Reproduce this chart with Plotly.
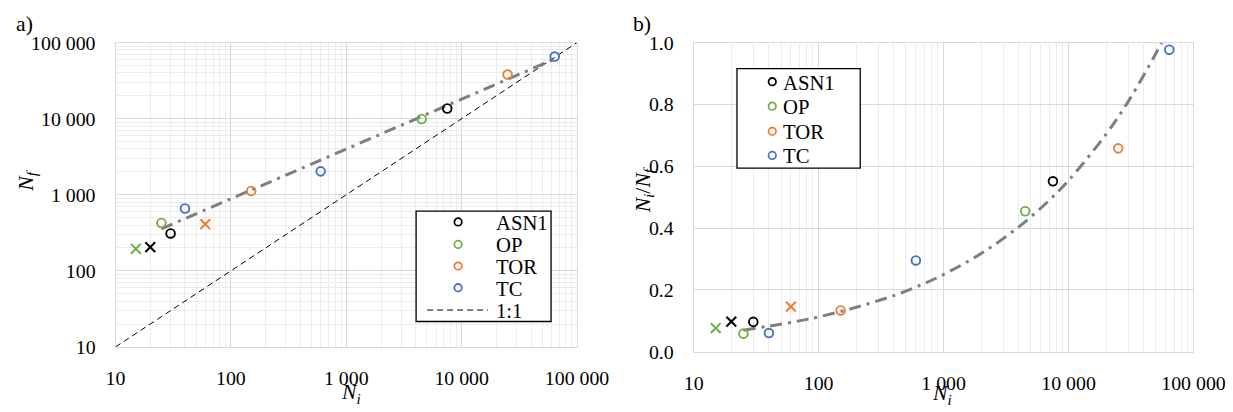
import plotly.graph_objects as go

# ---- data -------------------------------------------------------------
# circle markers (tested specimens)
asn1_ni = [30, 7500]
asn1_nf = [310, 13600]
op_ni = [25, 4500]
op_nf = [425, 9900]
tor_ni = [150, 25000]
tor_nf = [1120, 38000]
tc_ni = [40, 600, 64000]
tc_nf = [660, 2030, 65500]

# cross markers
asn1_x_ni = [20]
asn1_x_nf = [205]
op_x_ni = [15]
op_x_nf = [195]
tor_x_ni = [60]
tor_x_nf = [410]

# trend curve of Ni/Nf versus Ni
trend_ni = [25, 40, 70, 100, 200, 400, 700, 1000, 2000, 4000, 7000,
            10000, 20000, 30000, 45000, 55000, 65000]
trend_ratio = [0.070, 0.083, 0.100, 0.113, 0.144, 0.182, 0.221, 0.250,
               0.318, 0.404, 0.490, 0.554, 0.704, 0.809, 0.931, 0.997, 1.056]

one_to_one = [10, 100000]

log_tickvals = [10, 100, 1000, 10000, 100000]
log_ticktext = ["10", "100", "1 000", "10 000", "100 000"]
ratio_tickvals = [0.0, 0.2, 0.4, 0.6, 0.8, 1.0]
ratio_ticktext = ["0.0", "0.2", "0.4", "0.6", "0.8", "1.0"]

legend_names = ["ASN1", "OP", "TOR", "TC"]

# ---- page geometry ----------------------------------------------------
ZOOM = 0.967                 # page zoom of the viewer
PAD = 8                      # default body margin around the figure
W, H = 1258, 410             # figure size in css pixels
FONT = "Liberation Serif"
BLACK = "#000000"
GREEN = "#70AD47"
ORANGE = "#ED7D31"
BLUE = "#4472C4"
GREY = "#7F7F7F"
GRID = "#d9d9d9"
MINOR = "#ececec"
colors = [BLACK, GREEN, ORANGE, BLUE]


def px_x(p):
    """screen column -> paper fraction"""
    return (p / ZOOM - PAD) / W


def px_y(p):
    """screen row -> paper fraction"""
    return 1 - (p / ZOOM - PAD) / H


def sz(v):
    """screen size -> css size"""
    return v / ZOOM


def ratio(a, b):
    return [x / y for x, y in zip(a, b)]


minor_log = [k * 10 ** d for d in range(1, 5) for k in range(2, 10)]

fig = go.Figure()

MLW = sz(1.8)
circle = dict(symbol="circle-open", size=sz(8.4))
cross = dict(symbol="x-thin-open", size=sz(9.5))
trend_line = dict(color=GREY, width=sz(2.9), dash="12px,6px,3px,6px")

groups = [
    (asn1_ni, asn1_nf, asn1_x_ni, asn1_x_nf, BLACK),
    (op_ni, op_nf, op_x_ni, op_x_nf, GREEN),
    (tor_ni, tor_nf, tor_x_ni, tor_x_nf, ORANGE),
    (tc_ni, tc_nf, None, None, BLUE),
]

# panel a) : Nf vs Ni
fig.add_trace(go.Scatter(x=one_to_one, y=one_to_one, mode="lines",
                         line=dict(color=BLACK, width=1, dash="6px,4px"),
                         xaxis="x", yaxis="y", showlegend=False))
fig.add_trace(go.Scatter(x=trend_ni, y=[n / r for n, r in zip(trend_ni, trend_ratio)],
                         mode="lines", line=trend_line, xaxis="x", yaxis="y", showlegend=False))
# panel b) : Ni/Nf vs Ni
fig.add_trace(go.Scatter(x=trend_ni, y=trend_ratio, mode="lines", line_shape="spline",
                         line=trend_line, xaxis="x2", yaxis="y2", showlegend=False))

for ni, nf, xni, xnf, col in groups:
    for ax, ay, yfun in (("x", "y", lambda a, b: b), ("x2", "y2", ratio)):
        fig.add_trace(go.Scatter(x=ni, y=yfun(ni, nf), mode="markers",
                                 marker=dict(circle, color=col, line=dict(width=MLW, color=col)),
                                 xaxis=ax, yaxis=ay, showlegend=False))
        if xni:
            fig.add_trace(go.Scatter(x=xni, y=yfun(xni, xnf), mode="markers",
                                     marker=dict(cross, color=col, line=dict(width=sz(2), color=col)),
                                     xaxis=ax, yaxis=ay, showlegend=False))

tickfont = dict(family=FONT, size=sz(19.2), color=BLACK)
log_axis = dict(type="log", range=[1, 5], tickmode="array", tickvals=log_tickvals,
                ticktext=log_ticktext, showgrid=True, gridcolor=GRID, gridwidth=1,
                showline=True, linecolor=GRID, linewidth=1, mirror=True, ticks="",
                zeroline=False, tickfont=tickfont,
                minor=dict(tickmode="array", tickvals=minor_log, showgrid=True,
                           gridcolor=MINOR, gridwidth=1, ticks=""))

fig.update_layout(
    width=W, height=H, margin=dict(l=0, r=0, t=0, b=0),
    paper_bgcolor="white", plot_bgcolor="white", showlegend=False,
    xaxis=dict(log_axis, domain=[px_x(113.3), px_x(575)], anchor="y", ticklabelstandoff=13),
    yaxis=dict(log_axis, domain=[px_y(351), px_y(40)], anchor="x", ticklabelstandoff=15),
    xaxis2=dict(log_axis, domain=[px_x(691.7), px_x(1191.7)], anchor="y2", ticklabelstandoff=13),
    yaxis2=dict(type="linear", range=[0, 1], tickmode="array", tickvals=ratio_tickvals,
                ticktext=ratio_ticktext, showgrid=True, gridcolor=GRID, gridwidth=1,
                showline=True, linecolor=GRID, linewidth=1, mirror=True, ticks="",
                zeroline=False, tickfont=tickfont, ticklabelstandoff=15,
                domain=[px_y(356), px_y(40)], anchor="x2"),
)

ann = []
shapes = []


def text(x, y, s, size=20, xanchor="left", angle=0):
    ann.append(dict(x=px_x(x), y=px_y(y), xref="paper", yref="paper", text=s,
                    showarrow=False, xanchor=xanchor, yanchor="middle", textangle=angle,
                    font=dict(family=FONT, size=sz(size), color=BLACK)))


# axis titles and panel labels
text(22, 21, "a)", size=21, xanchor="center")
text(640, 21, "b)", size=21, xanchor="center")
text(349, 399, "<i>N<sub>i</sub></i>", size=21, xanchor="center")
text(940, 400, "<i>N<sub>i</sub></i>", size=21, xanchor="center")
text(25, 182, "<i>N<sub>f</sub></i>", size=21, xanchor="center", angle=-90)
text(642, 191, "<i>N<sub>i</sub></i>/<i>N<sub>f</sub></i>", size=21, xanchor="center", angle=-90)


def box(x0, y0, x1, y1):
    shapes.append(dict(type="rect", xref="paper", yref="paper", x0=px_x(x0), x1=px_x(x1),
                       y0=px_y(y1), y1=px_y(y0), line=dict(color=BLACK, width=1.3),
                       fillcolor="white", layer="above"))


def dot(x, y, col):
    r = sz(3.6)
    shapes.append(dict(type="circle", xref="paper", yref="paper", xsizemode="pixel",
                       ysizemode="pixel", xanchor=px_x(x), yanchor=px_y(y),
                       x0=-r, x1=r, y0=-r, y1=r, line=dict(color=col, width=sz(1.7)),
                       layer="above"))


# legend of panel a)
box(414, 212.3, 549, 325)
rows_a = [223.3, 246.3, 268.3, 290.5]
for name, col, y in zip(legend_names, colors, rows_a):
    dot(456, y, col)
    text(492, y + 1, name)
shapes.append(dict(type="line", xref="paper", yref="paper", x0=px_x(425), x1=px_x(486),
                   y0=px_y(313.3), y1=px_y(313.3), line=dict(color=BLACK, width=1, dash="6px,4px"),
                   layer="above"))
text(492, 314, "1:1")

# legend of panel b)
box(735, 66.7, 858.3, 168.3)
rows_b = [80, 105, 130.7, 155.3]
for name, col, y in zip(legend_names, colors, rows_b):
    dot(770.3, y, col)
    text(779, y + 1, name)

fig.update_layout(annotations=ann, shapes=shapes)
fig.write_html("out.html")
